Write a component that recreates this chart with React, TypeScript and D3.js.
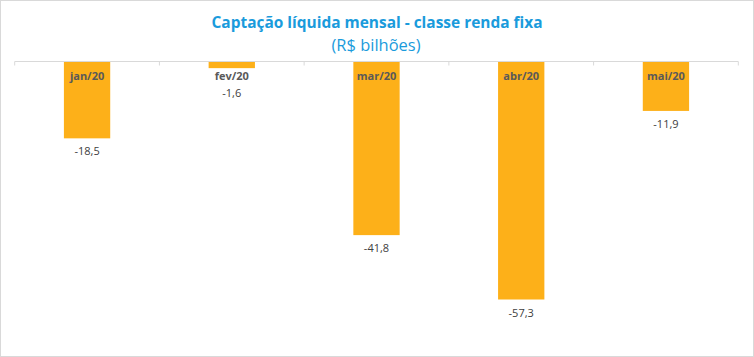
import React from "react";
import * as d3 from "d3";

const categories = ["jan/20", "fev/20", "mar/20", "abr/20", "mai/20"];
const values = [-18.5, -1.6, -41.8, -57.3, -11.9];
const valueLabels = ["-18,5", "-1,6", "-41,8", "-57,3", "-11,9"];
const title = "Captação líquida mensal - classe renda fixa";
const subtitle = "(R$ bilhões)";

const W = 754;
const H = 357;
const FONT = "'Open Sans', 'Liberation Sans', sans-serif";

export default function App() {
  const x = d3.scaleBand<string>().domain(categories).range([14.7, 738.3]).paddingInner(0.68).paddingOuter(0.34);
  const y = d3.scaleLinear().domain([0, -57.3]).range([61.5, 299.5]);
  const edges = d3.range(categories.length + 1).map((i) => 14.7 + (i * (738.3 - 14.7)) / categories.length);
  const catY = 80;

  return (
    <div>
      <style>{`body{margin:0}`}</style>
      <svg width={W} height={H} style={{ display: "block" }}>
        <rect x={0.5} y={0.5} width={W - 1} height={H - 1} fill="#fff" stroke="#d9d9d9" strokeWidth={1} />
        <text x={377} y={28} textAnchor="middle" fontFamily={FONT} fontWeight={700} fontSize={16} fill="#1a9bdc" textLength={331} lengthAdjust="spacingAndGlyphs">{title}</text>
        <text x={376} y={51} textAnchor="middle" fontFamily={FONT} fontSize={16} fill="#1a9bdc" textLength={89} lengthAdjust="spacingAndGlyphs">{subtitle}</text>
        {categories.map((c, i) => {
          const v = values[i];
          const bx = x(c) as number;
          const y0 = y(0);
          const y1 = y(v);
          const labelY = Math.max(y1 + 17, catY + 17);
          return (
            <g key={c}>
              <rect x={bx} y={y0} width={x.bandwidth()} height={y1 - y0} fill="#fdb019" />
              <text x={bx + x.bandwidth() / 2} y={catY} textAnchor="middle" fontFamily={FONT} fontWeight={700} fontSize={11} fill="#595959">{c}</text>
              <text x={bx + x.bandwidth() / 2} y={labelY} textAnchor="middle" fontFamily={FONT} fontSize={11} fill="#404040">{valueLabels[i]}</text>
            </g>
          );
        })}
        <line x1={14.7} x2={738.3} y1={61.5} y2={61.5} stroke="#d9d9d9" strokeWidth={1} />
        {edges.map((e, i) => (
          <line key={i} x1={e} x2={e} y1={61.5} y2={65.5} stroke="#d9d9d9" strokeWidth={1} />
        ))}
      </svg>
    </div>
  );
}
